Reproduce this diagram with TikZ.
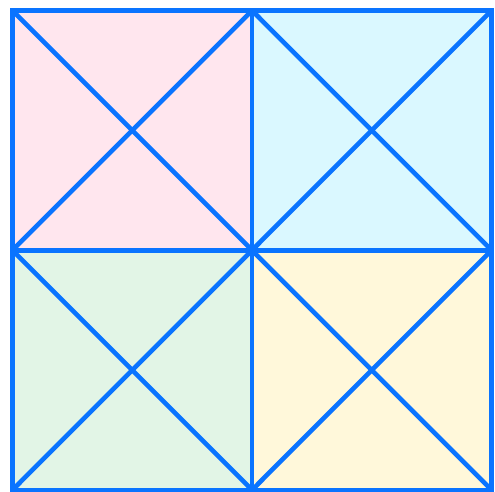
\documentclass[tikz,border=0pt]{standalone}
\usepackage{tikz}
\usetikzlibrary{calc}
\usepackage{xcolor}
\definecolor{gdblue}{HTML}{0A74FF}
\definecolor{gdpink}{HTML}{FFE6EE}
\definecolor{gdcyan}{HTML}{DAF8FF}
\definecolor{gdgreen}{HTML}{E2F5E6}
\definecolor{gdyellow}{HTML}{FFF8DA}

\begin{document}
\begin{tikzpicture}[
  x=1pt, y=1pt,
  cell/.style={fill=#1, draw=none},
  gridline/.style={draw=gdblue, line width=4.6pt, line join=miter},
  diag/.style={draw=gdblue, line width=4.6pt}
]
\useasboundingbox (0,0) rectangle (495,491);

% Corner and midpoint coordinates
\coordinate (tl) at (12.5,480.5);
\coordinate (tm) at (252,480.5);
\coordinate (tr) at (491.5,480.5);
\coordinate (ml) at (12.5,240.75);
\coordinate (cc) at (252,240.75);
\coordinate (mr) at (491.5,240.75);
\coordinate (bl) at (12.5,1);
\coordinate (bm) at (252,1);
\coordinate (br) at (491.5,1);

% Cell fills
\fill[cell=gdpink] (ml) rectangle (tm);
\fill[cell=gdcyan] (cc) rectangle (tr);
\fill[cell=gdgreen] (bl) rectangle (cc);
\fill[cell=gdyellow] (bm) rectangle (mr);

% Diagonals of each cell
\draw[diag] (tl) -- (cc);
\draw[diag] (ml) -- (tm);
\draw[diag] (tm) -- (mr);
\draw[diag] (cc) -- (tr);
\draw[diag] (ml) -- (bm);
\draw[diag] (bl) -- (cc);
\draw[diag] (cc) -- (br);
\draw[diag] (bm) -- (mr);

% Grid lines and outer frame
\draw[gridline] (tm) -- (bm);
\draw[gridline] (ml) -- (mr);
\draw[gridline] (bl) rectangle (tr);

\end{tikzpicture}
\end{document}
